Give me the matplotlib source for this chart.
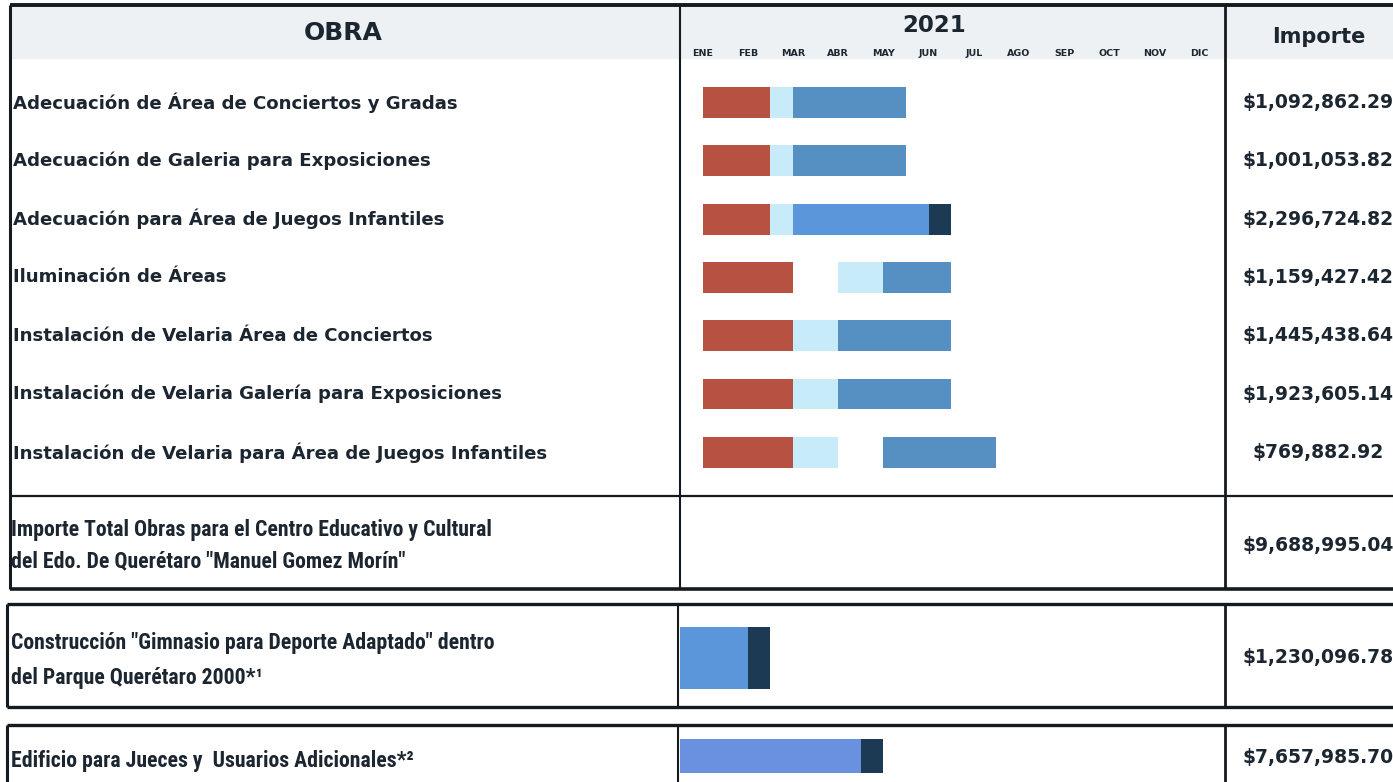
import matplotlib
matplotlib.use("Agg")
import matplotlib.pyplot as plt
import matplotlib.transforms as mtransforms
from matplotlib.patches import Rectangle

# Datos de la tabla
meses = ["ENE", "FEB", "MAR", "ABR", "MAY", "JUN", "JUL", "AGO", "SEP", "OCT", "NOV", "DIC"]

obras = [
    "Adecuación de Área de Conciertos y Gradas",
    "Adecuación de Galeria para Exposiciones",
    "Adecuación para Área de Juegos Infantiles",
    "Iluminación de Áreas",
    "Instalación de Velaria Área de Conciertos",
    "Instalación de Velaria Galería para Exposiciones",
    "Instalación de Velaria para Área de Juegos Infantiles",
]
importes = [
    "$1,092,862.29", "$1,001,053.82", "$2,296,724.82", "$1,159,427.42",
    "$1,445,438.64", "$1,923,605.14", "$769,882.92",
]

# fases en meses (0 = inicio de enero)
rojo_ini = [0.5, 0.5, 0.5, 0.5, 0.5, 0.5, 0.5]
rojo_fin = [2.0, 2.0, 2.0, 2.5, 2.5, 2.5, 2.5]
claro_ini = [2.0, 2.0, 2.0, 3.5, 2.5, 2.5, 2.5]
claro_fin = [2.5, 2.5, 2.5, 4.5, 3.5, 3.5, 3.5]
azul_ini = [2.5, 2.5, 2.5, 4.5, 3.5, 3.5, 4.5]
azul_fin = [5.0, 5.0, 5.5, 6.0, 6.0, 6.0, 7.0]
oscuro_fila = [2]
oscuro_ini = [5.5]
oscuro_fin = [6.0]

total_texto = ["Importe Total Obras para el Centro Educativo y Cultural",
               "del Edo. De Querétaro \"Manuel Gomez Morín\""]
total_importe = "$9,688,995.04"

gimnasio_texto = ["Construcción \"Gimnasio para Deporte Adaptado\" dentro",
                  "del Parque Querétaro 2000*¹"]
gimnasio_importe = "$1,230,096.78"
gimnasio_azul = (0.0, 1.5)
gimnasio_oscuro = (1.5, 2.0)

jueces_texto = "Edificio para Jueces y  Usuarios Adicionales*²"
jueces_importe = "$7,657,985.70"
jueces_azul = (0.0, 4.0)
jueces_oscuro = (4.0, 4.5)

# colores
ROJO = "#b75242"
CLARO = "#c7ebf8"
AZUL = "#5690c2"
AZUL_VIVO = "#5b95da"
AZUL_LILA = "#6a90e0"
OSCURO = "#1d3a55"
TINTA = "#1c2630"
LINEA = "#151a1e"

W, H = 1393, 782
fig = plt.figure(figsize=(W / 100, H / 100), dpi=100)

# capa en pixeles para el marco de la tabla
pg = fig.add_axes([0, 0, 1, 1])
pg.set_xlim(0, W)
pg.set_ylim(H, 0)
pg.axis("off")

X0, X_DIV, X_IMP = 10, 680, 1225
MES_PX = 45.2

pg.add_patch(Rectangle((X0, 5), W - X0, 53, color="#eef1f4", zorder=0))
# tabla principal
pg.hlines([5], X0, W, color=LINEA, lw=2.8)
pg.hlines([496], X0, W, color=LINEA, lw=1.6)
pg.hlines([589], X0, W, color=LINEA, lw=2.6)
pg.vlines([X0], 5, 589, color=LINEA, lw=2.2)
pg.vlines([X_DIV], 5, 589, color=LINEA, lw=1.5)
pg.vlines([X_IMP], 5, 589, color=LINEA, lw=2.0)
# recuadro gimnasio
pg.hlines([604, 707], 7, W, color=LINEA, lw=2.4)
pg.vlines([7], 604, 707, color=LINEA, lw=2.2)
pg.vlines([678], 604, 707, color=LINEA, lw=1.5)
pg.vlines([X_IMP], 604, 707, color=LINEA, lw=2.0)
# recuadro jueces
pg.hlines([725], 7, W, color=LINEA, lw=2.4)
pg.vlines([7], 725, H, color=LINEA, lw=2.2)
pg.vlines([678], 725, H, color=LINEA, lw=1.5)
pg.vlines([X_IMP], 725, H, color=LINEA, lw=2.0)

# encabezados
pg.text(343, 33, "OBRA", ha="center", va="center", fontsize=18, fontweight="bold",
        family="DejaVu Sans", color=TINTA)
pg.text(934, 25, "2021", ha="center", va="center", fontsize=16.5, fontweight="bold",
        family="DejaVu Sans", color=TINTA)
pg.text(1319, 37, "Importe", ha="center", va="center", fontsize=15, fontweight="bold",
        family="DejaVu Sans", color=TINTA)


def eje_gantt(y_top, y_bot, n):
    ax = fig.add_axes([X_DIV / W, 1 - y_bot / H, 12 * MES_PX / W, (y_bot - y_top) / H])
    ax.set_xlim(0, 12)
    ax.set_ylim(n - 0.5, -0.5)
    ax.set_facecolor("none")
    for s in ax.spines.values():
        s.set_visible(False)
    ax.set_yticks([])
    ax.set_xticks([])
    return ax


# gantt principal
filas = list(range(len(obras)))
ax = eje_gantt(73.3, 481.5, len(obras))
alto = 0.53
ax.barh(filas, [f - i for i, f in zip(rojo_ini, rojo_fin)], left=rojo_ini, height=alto, color=ROJO)
ax.barh(filas, [f - i for i, f in zip(claro_ini, claro_fin)], left=claro_ini, height=alto, color=CLARO)
tonos = [AZUL_VIVO if k in oscuro_fila else AZUL for k in filas]
ax.barh(filas, [f - i for i, f in zip(azul_ini, azul_fin)], left=azul_ini, height=alto, color=tonos)
ax.barh(oscuro_fila, [f - i for i, f in zip(oscuro_ini, oscuro_fin)], left=oscuro_ini,
        height=alto, color=OSCURO)

ax.xaxis.tick_top()
ax.set_xticks([m + 0.5 for m in range(12)])
ax.set_xticklabels(meses, fontsize=6.8, fontweight="bold", family="DejaVu Sans", color=TINTA)
ax.tick_params(axis="x", length=0, pad=11)

tr = mtransforms.blended_transform_factory(pg.transData, ax.transData)
for k, (obra, imp) in enumerate(zip(obras, importes)):
    pg.text(13, k, obra, transform=tr, ha="left", va="center", fontsize=13.1,
            fontweight="bold", family="DejaVu Sans", color=TINTA)
    pg.text(1318, k, imp, transform=tr, ha="center", va="center", fontsize=13.5,
            fontweight="bold", family="DejaVu Sans", color=TINTA)

# letra angosta para los renglones inferiores
angosta = dict(family=["Roboto Condensed", "Liberation Sans"], fontweight="bold",
               fontsize=15.7, color=TINTA, ha="left", va="center")

# fila de total
pg.text(11, 530, total_texto[0], **angosta)
pg.text(11, 561, total_texto[1], **angosta)
pg.text(1318, 545, total_importe, ha="center", va="center", fontsize=13.5, fontweight="bold",
        family="DejaVu Sans", color=TINTA)

# gimnasio
ax2 = eje_gantt(605, 711, 1)
ax2.barh([0], [gimnasio_azul[1] - gimnasio_azul[0]], left=gimnasio_azul[0], height=0.59, color=AZUL_VIVO)
ax2.barh([0], [gimnasio_oscuro[1] - gimnasio_oscuro[0]], left=gimnasio_oscuro[0], height=0.59, color=OSCURO)
pg.text(11, 643, gimnasio_texto[0], **angosta)
pg.text(11, 678, gimnasio_texto[1], **angosta)
pg.text(1318, 657, gimnasio_importe, ha="center", va="center", fontsize=13.5, fontweight="bold",
        family="DejaVu Sans", color=TINTA)

# jueces
ax3 = eje_gantt(725, 787, 1)
ax3.barh([0], [jueces_azul[1] - jueces_azul[0]], left=jueces_azul[0], height=0.55, color=AZUL_LILA)
ax3.barh([0], [jueces_oscuro[1] - jueces_oscuro[0]], left=jueces_oscuro[0], height=0.55, color=OSCURO)
pg.text(11, 761, jueces_texto, **angosta)
pg.text(1318, 757, jueces_importe, ha="center", va="center", fontsize=13.5, fontweight="bold",
        family="DejaVu Sans", color=TINTA)

fig.savefig("out.png", dpi=100)
